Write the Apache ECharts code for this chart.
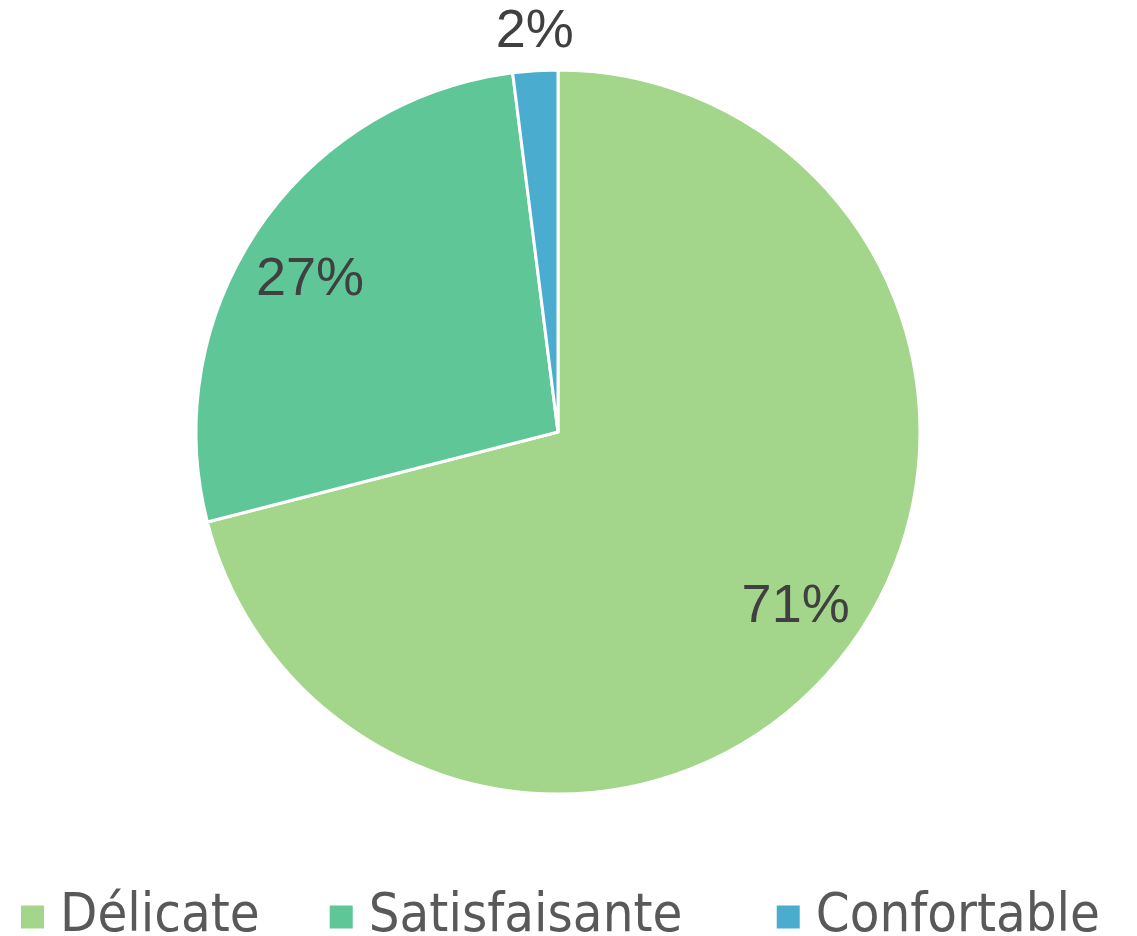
<!DOCTYPE html>
<html>
<head>
<meta charset="utf-8">
<script src="https://cdn.jsdelivr.net/npm/echarts@6/dist/echarts.min.js"></script>
<style>
  html, body { margin: 0; padding: 0; background: #fff; }
  #main { width: 1137px; height: 936px; }
</style>
</head>
<body>
<div id="main"></div>
<script>
// données
var categories = ['Délicate', 'Satisfaisante', 'Confortable'];
var values = [71, 27, 2];
var colors = ['#a3d68b', '#5fc797', '#4aadd0'];

(function(){
    var myChart = echarts.init(document.getElementById('main'));

    var pieData = categories.map(function (name, i) {
        return { name: name, value: values[i], itemStyle: { color: colors[i] } };
    });

    var labelFont = {
        fontFamily: 'Liberation Sans, Arial, sans-serif',
        fontSize: 54,
        color: '#404040'
    };

    // series invisibles pour placer les étiquettes
    var innerLabels = categories.map(function (name, i) {
        return {
            name: name, value: values[i],
            label: { show: i < 2 }
        };
    });
    var outerLabels = categories.map(function (name, i) {
        return {
            name: name, value: values[i],
            label: { show: i === 2 }
        };
    });

    // largeur du texte de légende (police de remplacement plus étroite)
    var legendTextWidth = [null, 338, null];

    var option = {
        animation: false,
        legend: {
            left: 14,
            top: 884,
            icon: 'rect',
            itemWidth: 25,
            itemHeight: 25,
            itemGap: 68,
            data: categories.map(function (name, i) {
                var item = { name: name, itemStyle: { color: colors[i] } };
                if (legendTextWidth[i]) item.textStyle = { width: legendTextWidth[i] };
                return item;
            }),
            textStyle: {
                fontFamily: 'DejaVu Sans Condensed, DejaVu Sans',
                fontSize: 54,
                lineHeight: 56,
                color: '#595959',
                padding: [0, 0, 0, 10]
            }
        },
        series: [
            {
                name: 'main',
                type: 'pie',
                center: [558, 432],
                radius: 362,
                startAngle: 90,
                clockwise: true,
                label: { show: false },
                labelLine: { show: false },
                itemStyle: { borderColor: '#fff', borderWidth: 3 },
                data: pieData
            },
            {
                name: 'lbl1',
                type: 'pie',
                silent: true,
                center: [558, 432],
                radius: [218, 362],
                startAngle: 92,
                itemStyle: { color: 'transparent' },
                label: Object.assign({ position: 'inside', formatter: '{c}%', offset: [0, 4] }, labelFont),
                labelLine: { show: false },
                data: innerLabels
            },
            {
                name: 'lbl2',
                type: 'pie',
                silent: true,
                center: [558, 432],
                radius: [362, 438],
                startAngle: 90,
                itemStyle: { color: 'transparent' },
                label: Object.assign({ position: 'inside', formatter: '{c}%', offset: [2, 2] }, labelFont),
                labelLine: { show: false },
                data: outerLabels
            }
        ]
    };

    myChart.setOption(option);
})();
</script>
</body>
</html>
